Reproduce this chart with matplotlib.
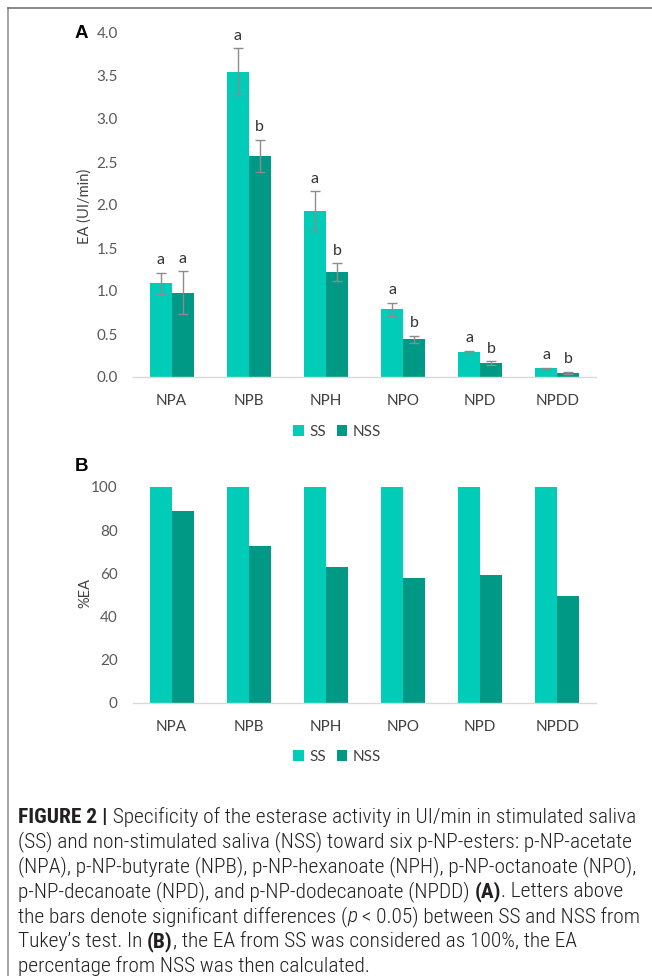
import matplotlib
matplotlib.use("Agg")
import matplotlib.pyplot as plt
import numpy as np
from matplotlib.patches import Patch
from matplotlib.lines import Line2D
from matplotlib import font_manager

# ---- data -------------------------------------------------------------
categories = ["NPA", "NPB", "NPH", "NPO", "NPD", "NPDD"]

# esterase activity (UI/min)
ea_ss = [1.09, 3.55, 1.93, 0.79, 0.29, 0.10]
ea_nss = [0.98, 2.57, 1.22, 0.44, 0.16, 0.05]
err_ss = [0.12, 0.27, 0.23, 0.075, 0.012, 0.006]
err_nss = [0.25, 0.19, 0.10, 0.04, 0.025, 0.01]
letters_ss = ["a", "a", "a", "a", "a", "a"]
letters_nss = ["a", "b", "b", "b", "b", "b"]

# relative activity (%EA, SS = 100)
pct_ss = [100, 100, 100, 100, 100, 100]
pct_nss = [88.8, 72.6, 62.9, 57.7, 59.2, 49.5]

ea_ticks = [0.0, 0.5, 1.0, 1.5, 2.0, 2.5, 3.0, 3.5, 4.0]
pct_ticks = [0, 20, 40, 60, 80, 100]
series_names = ["SS", "NSS"]

# ---- style ------------------------------------------------------------
SS_COLOR = "#00CCB8"
NSS_COLOR = "#009985"
ERR_COLOR = "#8c8c8c"
AXIS_COLOR = "#d9d9d9"
TICK_COLOR = "#595959"
CAT_COLOR = "#404040"
CHART_FONT = ["Lato", "DejaVu Sans"]

available = {f.name for f in font_manager.fontManager.ttflist}
CAPTION_FONT = "Liberation Sans"
for cand in ("Roboto Condensed", "Roboto"):
    if cand in available:
        CAPTION_FONT = cand
        break

W, H = 652, 976
fig = plt.figure(figsize=(W / 100, H / 100), dpi=100)
fig.patch.set_facecolor("white")


def px_axes(left, top, right, bottom):
    return fig.add_axes([left / W, 1 - bottom / H, (right - left) / W, (bottom - top) / H])


x = np.arange(len(categories))
bw = 0.285


def style_axes(ax, ticks, fmt):
    for s in ("top", "right", "left"):
        ax.spines[s].set_visible(False)
    ax.spines["bottom"].set_color(AXIS_COLOR)
    ax.spines["bottom"].set_linewidth(1.0)
    ax.set_xlim(-0.5, len(categories) - 0.5)
    ax.set_xticks(x)
    ax.set_xticklabels(categories, fontsize=11, color=CAT_COLOR, family=CHART_FONT)
    ax.set_yticks(ticks)
    ax.set_yticklabels([fmt(t) for t in ticks], fontsize=11, color=TICK_COLOR, family=CHART_FONT)
    ax.tick_params(axis="both", length=0)
    ax.tick_params(axis="y", pad=11)
    ax.tick_params(axis="x", pad=12)


def add_legend(ax, y_px):
    handles = [Patch(facecolor=SS_COLOR, edgecolor="none"),
               Patch(facecolor=NSS_COLOR, edgecolor="none")]
    leg = ax.legend(handles, series_names, loc="center", ncol=2,
                    bbox_to_anchor=(337 / W, 1 - y_px / H), bbox_transform=fig.transFigure,
                    frameon=False, handlelength=0.7, handleheight=0.7,
                    handletextpad=0.35, columnspacing=0.7,
                    prop={"family": CHART_FONT, "size": 11})
    for t in leg.get_texts():
        t.set_color(CAT_COLOR)


# ---- panel A: esterase activity ---------------------------------------
axA = px_axes(133, 33, 596, 377)
axA.bar(x - bw / 2, ea_ss, bw, color=SS_COLOR, zorder=2)
axA.bar(x + bw / 2, ea_nss, bw, color=NSS_COLOR, zorder=2)
axA.errorbar(x - bw / 2, ea_ss, yerr=err_ss, fmt="none", ecolor=ERR_COLOR,
             elinewidth=1.0, capsize=3.5, capthick=1.0, zorder=3)
axA.errorbar(x + bw / 2, ea_nss, yerr=err_nss, fmt="none", ecolor=ERR_COLOR,
             elinewidth=1.0, capsize=3.5, capthick=1.0, zorder=3)
for xi, v, e, lab in zip(x - bw / 2, ea_ss, err_ss, letters_ss):
    axA.annotate(lab, (xi, v + e), xytext=(0, 4), textcoords="offset points",
                 ha="center", va="bottom", fontsize=11.5, color="#333333", family=CHART_FONT)
for xi, v, e, lab in zip(x + bw / 2, ea_nss, err_nss, letters_nss):
    axA.annotate(lab, (xi, v + e), xytext=(0, 4), textcoords="offset points",
                 ha="center", va="bottom", fontsize=11.5, color="#333333", family=CHART_FONT)
axA.set_ylim(0, 4.0)
style_axes(axA, ea_ticks, lambda t: f"{t:.1f}")
fig.text(85 / W, 1 - 206 / H, "EA (UI/min)", rotation=90, ha="center", va="center",
         fontsize=10.5, color=CAT_COLOR, family=CHART_FONT)
add_legend(axA, 432)

# ---- panel B: relative activity ---------------------------------------
axB = px_axes(133, 487, 596, 703)
axB.bar(x - bw / 2, pct_ss, bw, color=SS_COLOR, zorder=2)
axB.bar(x + bw / 2, pct_nss, bw, color=NSS_COLOR, zorder=2)
axB.set_ylim(0, 100)
style_axes(axB, pct_ticks, lambda t: f"{t:d}")
fig.text(85 / W, 1 - 593 / H, "%EA", rotation=90, ha="center", va="center",
         fontsize=10.5, color=CAT_COLOR, family=CHART_FONT)
add_legend(axB, 757)

# panel letters
for lab, ypx in (("A", 33), ("B", 466)):
    fig.text(81 / W, 1 - ypx / H, lab, ha="center", va="center", fontsize=13.5,
             fontweight="bold", color="black", family="Liberation Sans")

# frame lines
fig.add_artist(Line2D([7.5 / W, 7.5 / W], [0, 1 - 8 / H], transform=fig.transFigure,
                      color="#8a8a8a", lw=1.1))
fig.add_artist(Line2D([7.5 / W, 1], [1 - 8 / H, 1 - 8 / H], transform=fig.transFigure,
                      color="#6a6a6a", lw=1.1))

# ---- caption ----------------------------------------------------------
N = {"weight": "light"}
B = {"weight": "bold"}
I = {"style": "italic", "weight": "light"}
caption_lines = [
    [("FIGURE 2 |", B), (" Specificity of the esterase activity in UI/min in stimulated saliva", N)],
    [("(SS) and non-stimulated saliva (NSS) toward six p-NP-esters: p-NP-acetate", N)],
    [("(NPA), p-NP-butyrate (NPB), p-NP-hexanoate (NPH), p-NP-octanoate (NPO),", N)],
    [("p-NP-decanoate (NPD), and p-NP-dodecanoate (NPDD) ", N), ("(A)", B), (". Letters above", N)],
    [("the bars denote significant differences (", N), ("p", I), (" < 0.05) between SS and NSS from", N)],
    [("Tukey\u2019s test. In ", N), ("(B)", B), (", the EA from SS was considered as 100%, the EA", N)],
    [("percentage from NSS was then calculated.", N)],
]

renderer = fig.canvas.get_renderer()


def run_width(txt, size, kw):
    t1 = fig.text(0, 0, "|" + txt + "|", fontsize=size, family=CAPTION_FONT, **kw)
    t2 = fig.text(0, 0, "||", fontsize=size, family=CAPTION_FONT, **kw)
    w = t1.get_window_extent(renderer).width - t2.get_window_extent(renderer).width
    t1.remove()
    t2.remove()
    return w


# pick the caption size so that the widest line fills the text column
ref_size = 12
ref_w = sum(run_width(t, ref_size, k) for t, k in caption_lines[2])
cap_size = ref_size * (636 - 18) / ref_w

for i, runs in enumerate(caption_lines):
    xpx = 18
    ypx = 823 + 24.8 * i
    for txt, kw in runs:
        fig.text(xpx / W, 1 - ypx / H, txt, ha="left", va="baseline", fontsize=cap_size,
                 family=CAPTION_FONT, color="#231f20", **kw)
        xpx += run_width(txt, cap_size, kw)

fig.savefig("out.png", dpi=100, facecolor="white")
